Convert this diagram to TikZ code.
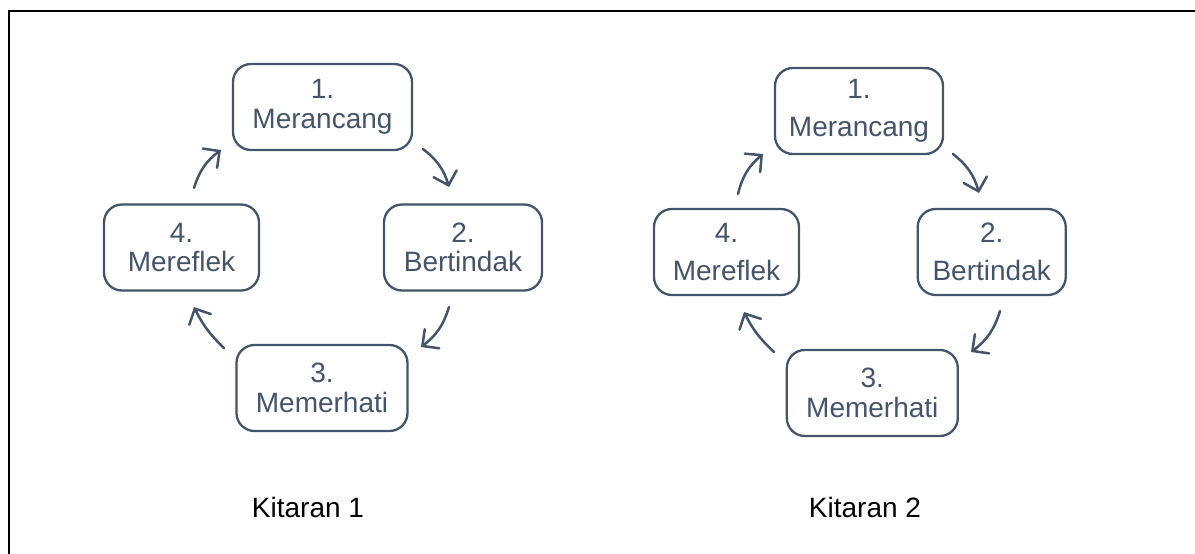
\documentclass[tikz,border=0pt]{standalone}
\usepackage{fontspec}
\setmainfont{Liberation Sans}
\usetikzlibrary{arrows.meta}
\definecolor{slate}{RGB}{68,84,106}
\begin{document}
\begin{tikzpicture}[x=0.5pt,y=-0.5pt,
  stage/.style={draw=slate, line width=1.15pt, rounded corners=9pt, text=slate,
    align=center, inner sep=0pt, minimum height=43pt,
    font=\fontsize{14}{14.8}\selectfont},
  spaced/.style={font=\fontsize{14}{19}\selectfont},
  cyc/.style={draw=slate, line width=1.25pt, line cap=round,
    -{Straight Barb[length=6pt,width=12pt,line cap=round]}, bend left=18},
  lab/.style={font=\fontsize{14}{16}\selectfont, text=black}]
\useasboundingbox (0,0) rectangle (1195,553);
\begin{scope}
  \clip (0,0) rectangle (1195,553);
  \draw[line width=1.3pt] (9,11) rectangle (1210,570);
\end{scope}

% Kitaran 1
\node[stage, minimum width=89.5pt] (l1) at (322.5,107) {1.\\Merancang};
\node[stage, minimum width=79pt]   (l2) at (463,247.5) {2.\\Bertindak};
\node[stage, minimum width=85.5pt] (l3) at (322,388) {3.\\Memerhati};
\node[stage, minimum width=77.5pt] (l4) at (181.5,247.5) {4.\\Mereflek};

\coordinate (a41s) at (194,188); \coordinate (a41e) at (221,150);
\coordinate (a12s) at (423,149); \coordinate (a12e) at (449,187);
\coordinate (a23s) at (449,307); \coordinate (a23e) at (421,347);
\coordinate (a34s) at (224,348); \coordinate (a34e) at (194,307);
\draw[cyc] (a41s) to (a41e);
\draw[cyc] (a12s) to (a12e);
\draw[cyc] (a23s) to (a23e);
\draw[cyc, bend left=10] (a34s) to (a34e);

\node[lab] (k1) at (308,507) {Kitaran 1};

% Kitaran 2
\node[stage, spaced, minimum width=84pt]   (r1) at (859,111) {1.\\Merancang};
\node[stage, spaced, minimum width=74pt]   (r2) at (991.7,252) {2.\\Bertindak};
\node[stage, minimum width=85.5pt]         (r3) at (872.3,393) {3.\\Memerhati};
\node[stage, spaced, minimum width=72.5pt] (r4) at (726.5,252) {4.\\Mereflek};

\coordinate (b41s) at (738,194);  \coordinate (b41e) at (763,154);
\coordinate (b12s) at (953,154);  \coordinate (b12e) at (979,193);
\coordinate (b23s) at (1000,311); \coordinate (b23e) at (971,352);
\coordinate (b34s) at (774,352);  \coordinate (b34e) at (744,312);
\draw[cyc] (b41s) to (b41e);
\draw[cyc] (b12s) to (b12e);
\draw[cyc] (b23s) to (b23e);
\draw[cyc, bend left=10] (b34s) to (b34e);

\node[lab] (k2) at (865,507) {Kitaran 2};
\end{tikzpicture}
\end{document}
